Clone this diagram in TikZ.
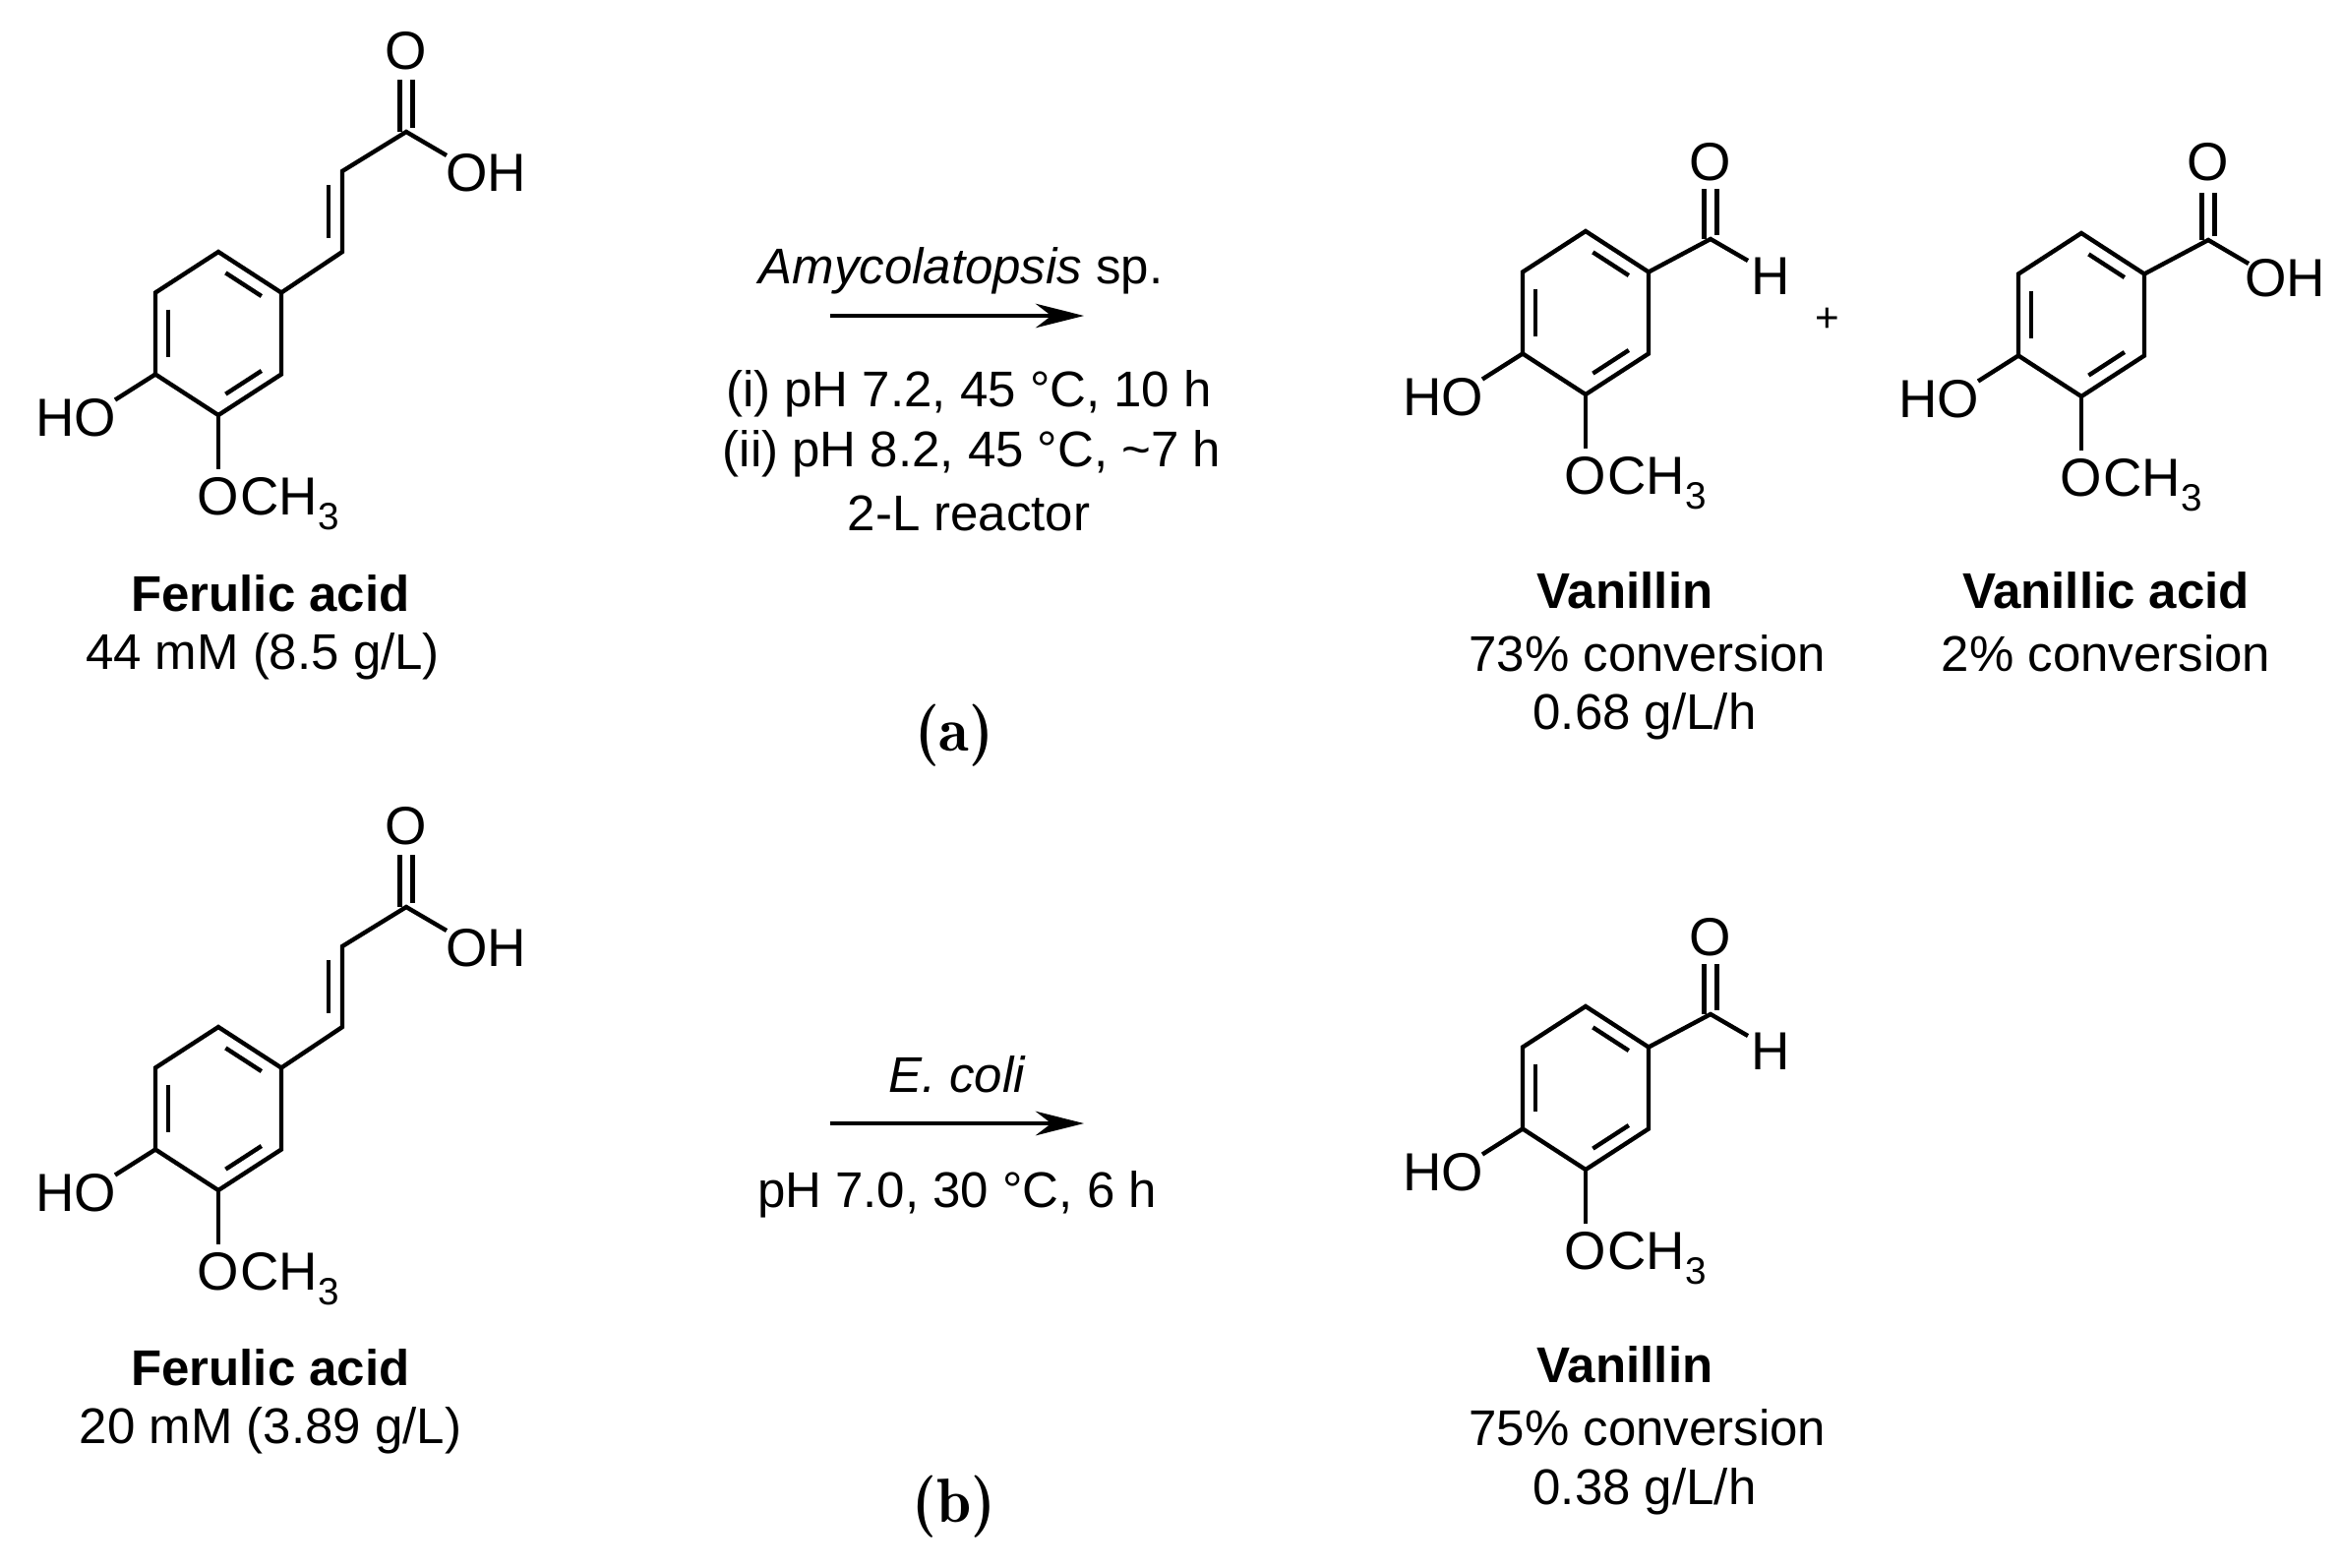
\documentclass[tikz,border=0pt]{standalone}
\usepackage{fontspec}
\setmainfont{Liberation Sans}
\usetikzlibrary{calc,arrows.meta}
\newcommand\benz{%
  \coordinate (T) at (0,-83); \coordinate (UR) at (64,-41.5); \coordinate (LR) at (64,41.5);
  \coordinate (B) at (0,83); \coordinate (LL) at (-64,41.5); \coordinate (UL) at (-64,-41.5);
  \draw[bond] (T)--(UR)--(LR)--(B)--(LL)--(UL)--cycle;
  \draw[bond,shorten <=2.5pt,shorten >=2.5pt] ($(0,0)!0.8!(UL)$)--($(0,0)!0.8!(LL)$);
  \draw[bond,shorten <=2.5pt,shorten >=2.5pt] ($(0,0)!0.8!(T)$)--($(0,0)!0.8!(UR)$);
  \draw[bond,shorten <=2.5pt,shorten >=2.5pt] ($(0,0)!0.8!(LR)$)--($(0,0)!0.8!(B)$);
  \draw[bond] (LL)--++(-41,26);
  \node[atom] at (-145,86) {HO};
  \draw[bond] (B)--(0,138);
  \node[atom,inner sep=0pt] (ox) at (0,166) {O};
  \node[atom,anchor=base west,inner sep=0pt] at (ox.base east) {CH\raisebox{-0.5ex}{\fontsize{11}{11}\selectfont 3}};
}
\newcommand\ferulic{%
  \benz
  \draw[bond] (UR)--(126,-83)--(126,-165)--(191,-205)--(232,-181);
  \draw[bond,shorten <=2pt,shorten >=2pt] (112,-90)--(112,-158);
  \draw[bond] (184.5,-205)--(184.5,-258);
  \draw[bond] (197.5,-209)--(197.5,-258);
  \node[atom] at (191,-287) {O};
  \node[atom] at (272,-163) {OH};
}
\newcommand\vanillin{%
  \benz
  \draw[bond] (UR)--(127,-75)--(165,-53);
  \draw[bond] (120.5,-75)--(120.5,-126);
  \draw[bond] (133.5,-79)--(133.5,-126);
  \node[atom] at (127,-153) {O};
  \node[atom] at (188,-37) {H};
}
\begin{document}
\begin{tikzpicture}[x=0.01cm,y=-0.01cm,
  bond/.style={line width=1.25pt,line join=miter},
  atom/.style={font=\fontsize{15.5}{18}\selectfont,inner sep=1pt},
  txt/.style={font=\fontsize{14.5}{17}\selectfont,inner sep=0pt},
  btxt/.style={font=\bfseries\fontsize{14.5}{17}\selectfont,inner sep=0pt},
  lab/.style={font=\fontfamily{lmr}\bfseries\fontsize{18}{20}\selectfont,inner sep=0pt},
  rxn/.style={line width=1pt,-{Stealth[length=14,width=7]}}]
\useasboundingbox (0,0) rectangle (2382,1593);
% ---------- (a)
\begin{scope}[shift={(222,339)}]\ferulic\end{scope}
\node[btxt] (fa1) at (275,603) {Ferulic acid};
\node[txt] (fa1c) at (267,667) {44 mM (8.5 g/L)};
\node[txt] (ca1) at (977,275) {\textit{Amycolatopsis} sp.};
\coordinate (a1s) at (844,321); \coordinate (a1e) at (1102,321);
\draw[rxn] (a1s)--(a1e);
\node[txt] (c1) at (985,400) {(i) pH 7.2, 45 °C, 10 h};
\node[txt] (c2) at (988,461) {(ii) pH 8.2, 45 °C, \textasciitilde7 h};
\node[txt] (c3) at (985,522) {2-L reactor};
\node[lab] (la) at (970,748) {(a)};
\begin{scope}[shift={(1612,318)}]\vanillin\end{scope}
\node[font=\fontsize{12}{12}\selectfont] (plus) at (1858,325) {+};
\begin{scope}[shift={(2116,320)}]\benz
  \draw[bond] (UR)--(129,-76)--(170,-52);
  \draw[bond] (122.5,-76)--(122.5,-124);
  \draw[bond] (135.5,-80)--(135.5,-124);
  \node[atom] at (129,-155) {O};
  \node[atom] at (207,-37) {OH};
\end{scope}
\node[btxt] (v1) at (1652,600) {Vanillin};
\node[txt] (v1a) at (1675,664) {73\% conversion};
\node[txt] (v1b) at (1672,728) {0.68 g/L/h};
\node[btxt] (va) at (2141,600) {Vanillic acid};
\node[txt] (vaa) at (2141,664) {2\% conversion};
% ---------- (b)
\begin{scope}[shift={(222,1127)}]\ferulic\end{scope}
\node[btxt] (fa2) at (275,1390) {Ferulic acid};
\node[txt] (fa2c) at (275,1454) {20 mM (3.89 g/L)};
\node[txt] (ca2) at (973,1092) {\textit{E. coli}};
\coordinate (a2s) at (844,1142); \coordinate (a2e) at (1102,1142);
\draw[rxn] (a2s)--(a2e);
\node[txt] (c4) at (973,1214) {pH 7.0, 30 °C, 6 h};
\node[lab] (lb) at (970,1532) {(b)};
\begin{scope}[shift={(1612,1106)}]\vanillin\end{scope}
\node[btxt] (v2) at (1652,1387) {Vanillin};
\node[txt] (v2a) at (1675,1451) {75\% conversion};
\node[txt] (v2b) at (1672,1516) {0.38 g/L/h};
\end{tikzpicture}
\end{document}
